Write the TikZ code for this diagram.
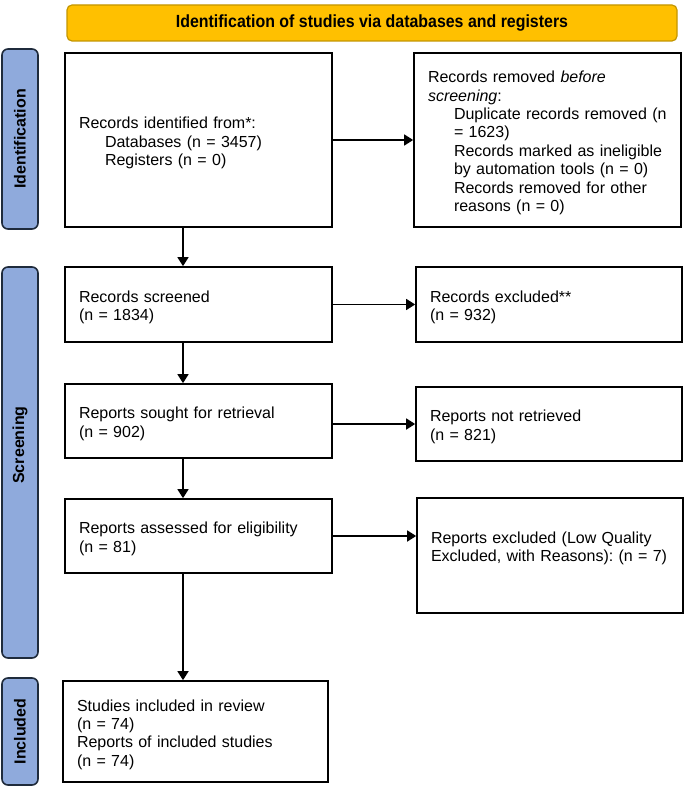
\documentclass[tikz,border=0pt]{standalone}
\usepackage{fontspec}
\setmainfont{Liberation Sans}
\usetikzlibrary{arrows.meta}
\definecolor{hdrfill}{HTML}{FFC000}
\definecolor{hdrline}{HTML}{C49600}
\definecolor{sidefill}{HTML}{8FAADC}
\definecolor{sideline}{HTML}{1F2B3C}
\frenchspacing
\begin{document}
\begin{tikzpicture}[x=1pt,y=-1pt,
  font=\fontsize{16}{18.4}\selectfont\frenchspacing,
  flowbox/.style={draw, line width=1.7pt, rectangle, align=left, inner xsep=14pt, inner ysep=0pt,
    execute at begin node={\rule{0pt}{17.6pt}}},
  sidebox/.style={draw=sideline, fill=sidefill, line width=1.6pt, rounded corners=6pt, minimum width=36pt, inner sep=0pt, font=\fontsize{16}{18.4}\selectfont\bfseries},
  headbox/.style={draw=hdrline, fill=hdrfill, line width=1.2pt, rounded corners=5pt, minimum width=610pt, minimum height=36pt, inner sep=0pt, font=\fontsize{17.6}{20}\selectfont\bfseries},
  arr/.style={line width=1.6pt, -{Triangle[length=9pt,width=11pt]}}]
\useasboundingbox (0,0) rectangle (685,786);
\fill[white] (0,0) rectangle (685,786);

% header
\node[headbox] (head) at (372,23) {\scalebox{0.905}[1]{Identification of studies via databases and registers}};

% side bars
\node[sidebox, minimum height=180pt] (sid) at (20,139) {\rotatebox{90}{Identification}};
\node[sidebox, minimum height=391pt] (sscr) at (20,462.5) {\rotatebox{90}{\hspace*{35pt}Screening}};
\node[sidebox, minimum height=107pt] (sinc) at (20,731.5) {\rotatebox{90}{Included}};

% left column
\node[flowbox, text width=239pt, minimum height=174pt] (id) at (198.5,140)
  {Records identified from*:\\\hspace*{26pt}Databases (n = 3457)\\\hspace*{26pt}Registers (n = 0)};
\node[flowbox, text width=239pt, minimum height=75pt] (scr) at (198.5,304.5)
  {Records screened\\(n = 1834)};
\node[flowbox, text width=239pt, minimum height=74pt] (sought) at (198.5,421)
  {Reports sought for retrieval\\(n = 902)};
\node[flowbox, text width=239pt, minimum height=74pt] (assess) at (198.5,536)
  {Reports assessed for eligibility\\(n = 81)};
\node[flowbox, text width=237pt, minimum height=101pt] (incl) at (195.5,731.5)
  {Studies included in review\\(n = 74)\\Reports of included studies\\(n = 74)};

% right column
\node[flowbox, text width=239pt, minimum height=174pt] (rem) at (547.5,140)
  {Records removed \textit{before}\\\textit{screening}:\\\hspace*{26pt}Duplicate records removed (n\\\hspace*{26pt}= 1623)\\\hspace*{26pt}Records marked as ineligible\\\hspace*{26pt}by automation tools (n = 0)\\\hspace*{26pt}Records removed for other\\\hspace*{26pt}reasons (n = 0)};
\node[flowbox, text width=238pt, minimum height=75pt] (rex) at (549,304.5)
  {Records excluded**\\(n = 932)};
\node[flowbox, text width=238pt, minimum height=74pt] (nr) at (549,424)
  {Reports not retrieved\\(n = 821)};
\node[flowbox, text width=238pt, minimum height=115pt] (rep) at (550,555.5)
  {Reports excluded (Low Quality\\\mbox{Excluded, with Reasons): (n = 7)}\\\strut};

% connectors
\coordinate (ax) at (183,0);
\draw[arr] (id.south -| ax) -- (scr.north -| ax);
\draw[arr] (scr.south -| ax) -- (sought.north -| ax);
\draw[arr] (sought.south -| ax) -- (assess.north -| ax);
\draw[arr] (assess.south -| ax) -- (incl.north -| ax);
\draw[arr] (id.east) -- (rem.west);
\draw[arr] (scr.east) -- (rex.west);
\draw[arr] (sought.east |- nr.west) -- (nr.west);
\draw[arr] (assess.east) -- (assess.east -| rep.west);
\end{tikzpicture}
\end{document}
